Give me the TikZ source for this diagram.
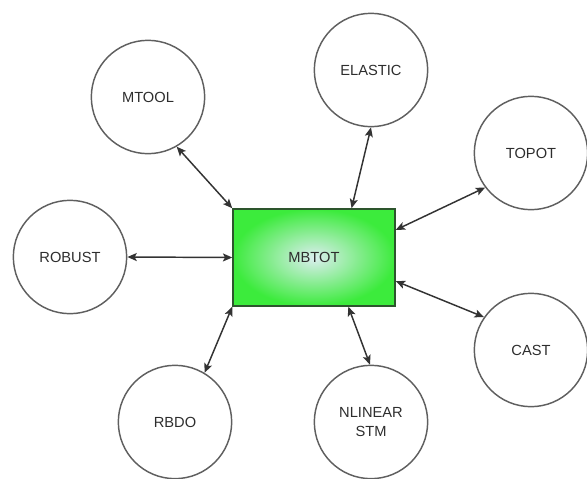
\documentclass[tikz,border=0pt]{standalone}
\usepackage{fontspec}
\setmainfont{Liberation Sans}
\usetikzlibrary{arrows.meta,calc}
\definecolor{hubgreen}{RGB}{60,235,60}
\definecolor{hubcenter}{RGB}{220,238,240}
\definecolor{hubedge}{RGB}{45,85,45}
\definecolor{ringgray}{RGB}{95,95,95}
\definecolor{txtgray}{RGB}{45,45,45}
\begin{document}
\begin{tikzpicture}[x=0.75pt,y=-0.75pt,
  bub/.style={circle,draw=ringgray,line width=1.1pt,minimum size=85pt,inner sep=0pt,
    font=\fontsize{11}{14}\selectfont,text=txtgray,align=center},
  hub/.style={rectangle,draw=hubedge,line width=1.1pt,minimum width=121.5pt,minimum height=72.75pt,
    inner sep=0pt,inner color=hubcenter,outer color=hubgreen,
    font=\fontsize{11}{14}\selectfont,text=txtgray},
  link/.style={draw=black!80,line width=1.1pt,
    {Stealth[length=7pt,width=6pt,inset=1.5pt]}-{Stealth[length=7pt,width=6pt,inset=1.5pt]}}]
\useasboundingbox (0,0) rectangle (587,479);

\node[hub] (mbtot) at (314,257.5) {MBTOT};

\node[bub] (mtool) at (148,97) {MTOOL};
\node[bub] (elastic) at (371,70) {ELASTIC};
\node[bub] (topot) at (531,153) {TOPOT};
\node[bub] (robust) at (70,257) {ROBUST};
\node[bub] (cast) at (531,350) {CAST};
\node[bub] (rbdo) at (175,422) {RBDO};
\node[bub] (nlinear) at (371,422) {NLINEAR\\STM};

\draw[link] (mtool.-60) -- (mbtot.north west);
\draw[link] (elastic.-90) -- ($(mbtot.north west)!0.73!(mbtot.north east)$);
\draw[link] (topot.217) -- ($(mbtot.north east)!0.22!(mbtot.south east)$);
\draw[link] (cast.145) -- ($(mbtot.north east)!0.74!(mbtot.south east)$);
\draw[link] (robust.east) -- (mbtot.west);
\draw[link] (rbdo.59) -- (mbtot.south west);
\draw[link] (nlinear.91) -- ($(mbtot.south west)!0.71!(mbtot.south east)$);
\end{tikzpicture}
\end{document}
